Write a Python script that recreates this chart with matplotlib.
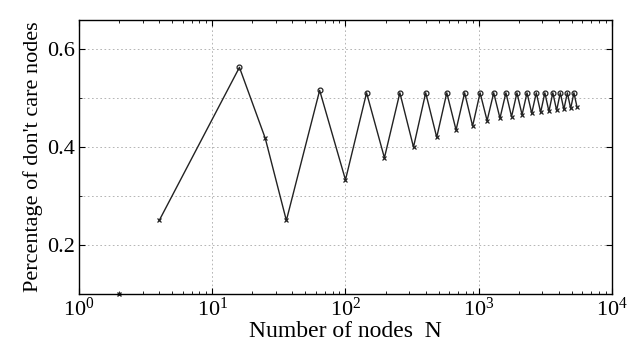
import matplotlib.pyplot as plt
from matplotlib.ticker import MultipleLocator, LogLocator, NullFormatter

# grid side n -> nodes N = n^2
nodes = [4, 16, 25, 36, 64, 100, 144, 196, 256, 324, 400, 484, 576, 676, 784,
         900, 1024, 1156, 1296, 1444, 1600, 1764, 1936, 2116, 2304, 2500, 2704,
         2916, 3136, 3364, 3600, 3844, 4096, 4356, 4624, 4900, 5184, 5476]
pct = [0.25, 0.563, 0.418, 0.25, 0.516, 0.333, 0.511, 0.378, 0.511, 0.40, 0.511,
       0.42, 0.511, 0.435, 0.511, 0.443, 0.511, 0.454, 0.511, 0.459, 0.511,
       0.462, 0.511, 0.466, 0.511, 0.469, 0.511, 0.471, 0.511, 0.473, 0.511,
       0.475, 0.511, 0.477, 0.511, 0.479, 0.511, 0.481]
peak = [v > 0.5 for v in pct]

stray_n = [2]
stray_pct = [0.1]

plt.rcParams['font.family'] = ['Liberation Serif', 'DejaVu Serif']
plt.rcParams['mathtext.fontset'] = 'stix'
fig = plt.figure(figsize=(6.27, 3.49), dpi=100)
ax = fig.add_axes([0.126, 0.158, 0.85, 0.785])

ax.plot(nodes, pct, color='#222222', lw=1.0)
ax.plot([n for n, p in zip(nodes, peak) if p], [v for v, p in zip(pct, peak) if p],
        'o', mfc='none', mec='#222222', ms=3.5, mew=0.9)
ax.plot([n for n, p in zip(nodes, peak) if not p], [v for v, p in zip(pct, peak) if not p],
        'x', color='#222222', ms=3.5, mew=0.9)
ax.plot(stray_n, stray_pct, 'x', color='#222222', ms=3, mew=1, clip_on=False)

ax.set_xscale('log')
ax.set_xlim(1, 1e4)
ax.set_ylim(0.1, 0.66)
ax.xaxis.set_major_locator(LogLocator(base=10, numticks=10))
ax.xaxis.set_minor_locator(LogLocator(base=10, subs=range(2, 10), numticks=20))
ax.xaxis.set_minor_formatter(NullFormatter())
ax.yaxis.set_major_locator(MultipleLocator(0.2))
ax.yaxis.set_minor_locator(MultipleLocator(0.1))
ax.yaxis.set_major_formatter(plt.FuncFormatter(lambda v, _: f'{v:.1f}'))

ax.grid(True, which='major', color='#aaaaaa', ls=(0, (2, 3)), lw=0.6)
ax.grid(True, which='minor', axis='y', color='#aaaaaa', ls=(0, (2, 3)), lw=0.6)
ax.tick_params(which='both', direction='in', top=True, right=True, labelsize=16)
ax.tick_params(which='major', length=4, pad=3)
ax.tick_params(which='minor', length=2.5)
for s in ax.spines.values():
    s.set_linewidth(1.0)

ax.set_xlabel('Number of nodes  N', fontsize=17, labelpad=0)
ax.set_ylabel("Percentage of don't care nodes", fontsize=16, labelpad=3)

fig.savefig('out.png', dpi=100)
